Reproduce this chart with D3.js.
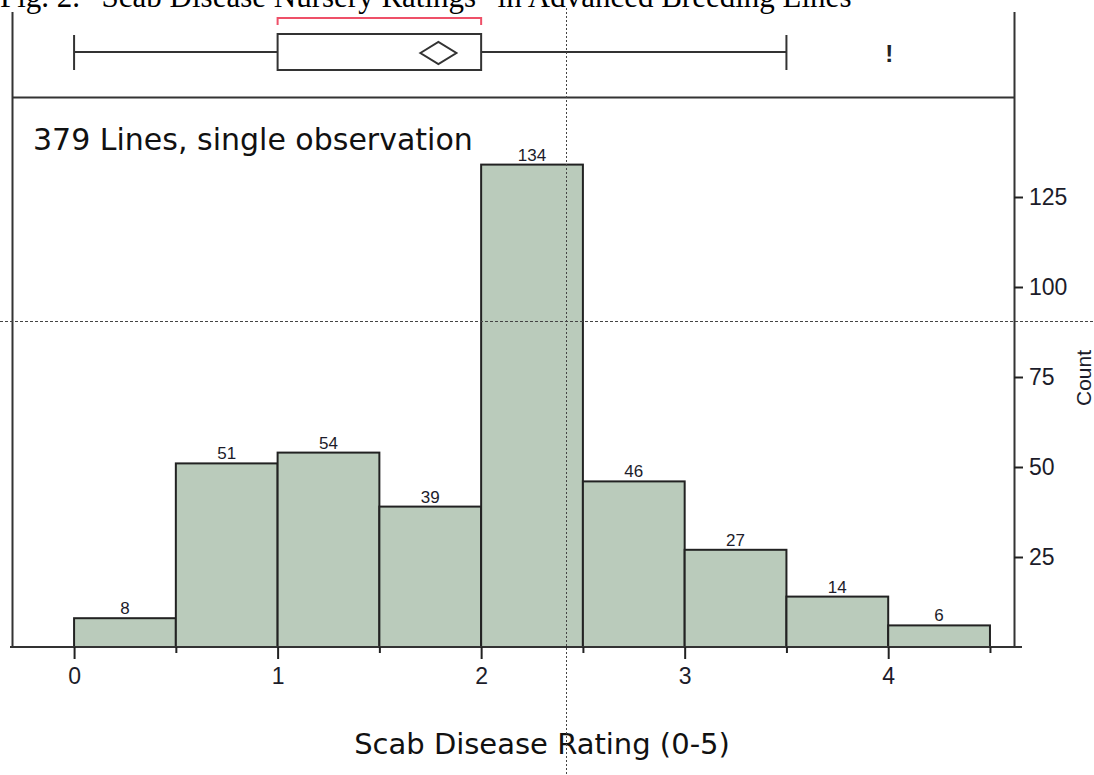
<!DOCTYPE html>
<html>
<head>
<meta charset="utf-8">
<script src="https://cdn.jsdelivr.net/npm/d3@7"></script>
<style>
  body { margin: 0; background: #fff; }
  svg { display: block; }
</style>
</head>
<body>
<div id="chart"></div>
<script>
// histogram bins (rating, bin start) and counts
var binStarts = [0, 0.5, 1, 1.5, 2, 2.5, 3, 3.5, 4];
var binWidth = 0.5;
var counts = [8, 51, 54, 39, 134, 46, 27, 14, 6];

var xTicks = [0, 1, 2, 3, 4];
var xMinorTicks = [0.5, 1.5, 2.5, 3.5, 4.5];
var yTicks = [25, 50, 75, 100, 125];

// outlier box plot stats
var whiskers = [0, 3.5];
var quartiles = [1, 2];
var meanRating = 1.79;
var shortestHalf = [1, 2];
var outliers = [4];

var width = 1094, height = 775;
var narrow = "'Liberation Sans',Arial,sans-serif";
var tahoma = "'DejaVu Sans',Verdana,sans-serif";
var inkText = "#1c1c2a";

var svg = d3.select("#chart")
    .append("svg")
    .attr("width", width)
    .attr("height", height);

var x = d3.scaleLinear().domain([-0.305, 4.623]).range([12, 1015]);
var y = d3.scaleLinear().domain([0, 152.5]).range([647, 98]);

// title, cut at the top edge like the source
svg.append("text")
    .attr("x", 0)
    .attr("y", 7)
    .attr("font-family", "'Liberation Serif','Times New Roman',serif")
    .attr("font-size", "31px")
    .attr("fill", "#000")
    .text("Fig. 2. \u201CScab Disease Nursery Ratings\u201D in Advanced Breeding Lines");

// frame
svg.append("line")
    .attr("x1", 12.5).attr("x2", 12.5).attr("y1", 12).attr("y2", 647)
    .attr("stroke", "#333").attr("stroke-width", 2);
svg.append("line")
    .attr("x1", 1014.5).attr("x2", 1014.5).attr("y1", 12).attr("y2", 647)
    .attr("stroke", "#333").attr("stroke-width", 2);
svg.append("line")
    .attr("x1", 12).attr("x2", 1015).attr("y1", 97.5).attr("y2", 97.5)
    .attr("stroke", "#333").attr("stroke-width", 2);

// bars
svg.selectAll(".bar")
    .data(counts)
    .enter()
    .append("rect")
    .attr("class", "bar")
    .attr("x", function(d, i) { return x(binStarts[i]); })
    .attr("y", function(d) { return y(d); })
    .attr("width", function(d, i) { return x(binStarts[i] + binWidth) - x(binStarts[i]); })
    .attr("height", function(d) { return y(0) - y(d); })
    .attr("fill", "#bacbbb")
    .attr("stroke", "#222")
    .attr("stroke-width", 2);

svg.selectAll(".barLabel")
    .data(counts)
    .enter()
    .append("text")
    .attr("class", "barLabel")
    .attr("x", function(d, i) { return x(binStarts[i] + binWidth / 2); })
    .attr("y", function(d) { return y(d) - 4; })
    .attr("text-anchor", "middle")
    .attr("font-family", narrow)
    .attr("font-size", "17px")
    .attr("fill", inkText)
    .text(function(d) { return d; });

// baseline
svg.append("line")
    .attr("x1", 10).attr("x2", 1022).attr("y1", 647).attr("y2", 647)
    .attr("stroke", "#333").attr("stroke-width", 2);

// x axis
var xAxis = svg.append("g")
    .attr("transform", "translate(0,647)")
    .call(d3.axisBottom(x).tickValues(xTicks).tickSize(12).tickPadding(9)
        .tickFormat(d3.format("d")));
xAxis.select(".domain").remove();
xAxis.selectAll(".tick line").attr("stroke", "#222").attr("stroke-width", 2);
xAxis.selectAll("text")
    .attr("font-family", narrow)
    .attr("font-size", "23px")
    .attr("fill", inkText);

var xMinor = svg.append("g")
    .attr("transform", "translate(0,647)")
    .call(d3.axisBottom(x).tickValues(xMinorTicks).tickSize(6).tickFormat(""));
xMinor.select(".domain").remove();
xMinor.selectAll(".tick line").attr("stroke", "#222").attr("stroke-width", 2);

// y axis on the right
var yAxis = svg.append("g")
    .attr("transform", "translate(1014,0)")
    .call(d3.axisRight(y).tickValues(yTicks).tickSize(9).tickPadding(6));
yAxis.select(".domain").remove();
yAxis.selectAll(".tick line").attr("stroke", "#222").attr("stroke-width", 2);
yAxis.selectAll("text")
    .attr("font-family", narrow)
    .attr("font-size", "23px")
    .attr("fill", inkText);

svg.append("text")
    .attr("transform", "translate(1091,378) rotate(-90)")
    .attr("text-anchor", "middle")
    .attr("font-family", narrow)
    .attr("font-size", "21px")
    .attr("fill", inkText)
    .text("Count");

// box plot
var boxMid = 52;
svg.append("line")
    .attr("x1", x(whiskers[0])).attr("x2", x(whiskers[1]))
    .attr("y1", boxMid).attr("y2", boxMid)
    .attr("stroke", "#333").attr("stroke-width", 2);
svg.selectAll(".cap")
    .data(whiskers)
    .enter()
    .append("line")
    .attr("class", "cap")
    .attr("x1", function(d) { return x(d); })
    .attr("x2", function(d) { return x(d); })
    .attr("y1", 35).attr("y2", 70)
    .attr("stroke", "#333").attr("stroke-width", 2);
svg.append("rect")
    .attr("x", x(quartiles[0]))
    .attr("y", 34)
    .attr("width", x(quartiles[1]) - x(quartiles[0]))
    .attr("height", 36)
    .attr("fill", "#fff")
    .attr("stroke", "#333").attr("stroke-width", 2);
svg.append("path")
    .attr("d", "M" + (x(meanRating) - 18) + "," + (boxMid + 1) +
               " L" + x(meanRating) + "," + (boxMid - 10) +
               " L" + (x(meanRating) + 18) + "," + (boxMid + 1) +
               " L" + x(meanRating) + "," + (boxMid + 12) + " Z")
    .attr("fill", "none")
    .attr("stroke", "#333").attr("stroke-width", 2);

// shortest half bracket
svg.append("path")
    .attr("d", "M" + x(shortestHalf[0]) + ",25 L" + x(shortestHalf[0]) + ",18 L" +
               x(shortestHalf[1]) + ",18 L" + x(shortestHalf[1]) + ",25")
    .attr("fill", "none")
    .attr("stroke", "#ee5068").attr("stroke-width", 2);

svg.selectAll(".outlier")
    .data(outliers)
    .enter()
    .append("text")
    .attr("class", "outlier")
    .attr("x", function(d) { return x(d) + 1; })
    .attr("y", 62)
    .attr("text-anchor", "middle")
    .attr("font-family", "'Liberation Sans',Arial,sans-serif")
    .attr("font-weight", "bold")
    .attr("font-size", "24px")
    .attr("fill", "#222")
    .text("!");

// annotation and axis title
svg.append("text")
    .attr("x", 33)
    .attr("y", 150)
    .attr("font-family", tahoma)
    .attr("font-size", "30px")
    .attr("fill", "#111")
    .text("379 Lines, single observation");

svg.append("text")
    .attr("x", 542)
    .attr("y", 754)
    .attr("text-anchor", "middle")
    .attr("font-family", tahoma)
    .attr("font-size", "29px")
    .attr("fill", "#111")
    .text("Scab Disease Rating (0-5)");

// cursor crosshair lines
svg.append("line")
    .attr("x1", 566.5).attr("x2", 566.5).attr("y1", 8).attr("y2", height)
    .attr("stroke", "#444").attr("stroke-width", 1)
    .attr("stroke-dasharray", "2,2");
svg.append("line")
    .attr("x1", 0).attr("x2", width).attr("y1", 321.5).attr("y2", 321.5)
    .attr("stroke", "#444").attr("stroke-width", 1)
    .attr("stroke-dasharray", "3,2");
</script>
</body>
</html>
